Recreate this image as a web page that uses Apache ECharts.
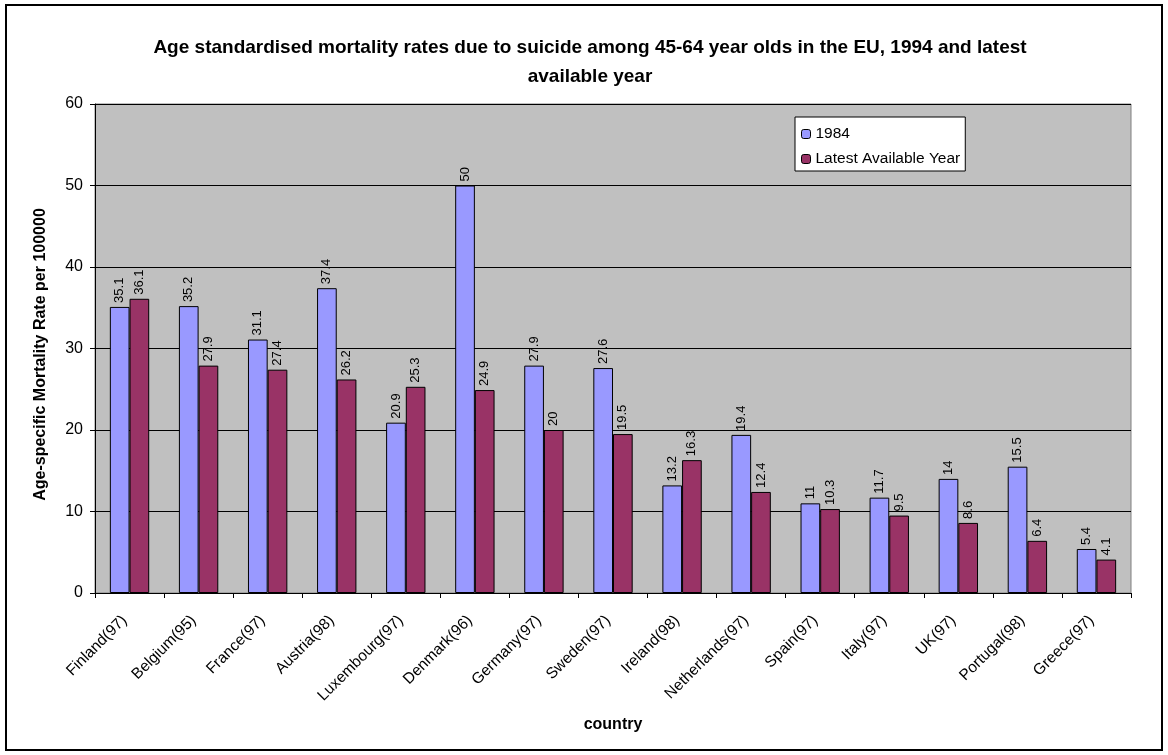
<!DOCTYPE html>
<html>
<head>
<meta charset="utf-8">
<style>
  html, body { margin: 0; padding: 0; background: #fff; }
  #chart { width: 1168px; height: 755px; }
</style>
<script src="https://cdn.jsdelivr.net/npm/echarts@6/dist/echarts.min.js"></script>
</head>
<body>
<div id="chart"></div>
<script>
// Countries with the year of the latest available figure
const countries = ['Finland(97)', 'Belgium(95)', 'France(97)', 'Austria(98)', 'Luxembourg(97)',
  'Denmark(96)', 'Germany(97)', 'Sweden(97)', 'Ireland(98)', 'Netherlands(97)',
  'Spain(97)', 'Italy(97)', 'UK(97)', 'Portugal(98)', 'Greece(97)'];
const rates1984 = [35.1, 35.2, 31.1, 37.4, 20.9, 50, 27.9, 27.6, 13.2, 19.4, 11, 11.7, 14, 15.5, 5.4];
const ratesLatest = [36.1, 27.9, 27.4, 26.2, 25.3, 24.9, 20, 19.5, 16.3, 12.4, 10.3, 9.5, 8.6, 6.4, 4.1];
const seriesNames = ['1984', 'Latest Available Year'];

const FONT = '"Liberation Sans", Arial, sans-serif';
const chart = echarts.init(document.getElementById('chart'), null, { renderer: 'canvas' });

const barLabel = {
  show: true,
  position: 'top',
  rotate: 90,
  align: 'left',
  verticalAlign: 'middle',
  distance: 4,
  fontFamily: FONT,
  fontSize: 13,
  color: '#000'
};

chart.setOption({
  animation: false,
  textStyle: { fontFamily: FONT },
  graphic: [{
    type: 'rect',
    shape: { x: 6, y: 5, width: 1156, height: 745 },
    style: { fill: 'none', stroke: '#000', lineWidth: 2 },
    z: -1
  }],
  title: {
    text: 'Age standardised mortality rates due to suicide among 45-64 year olds in the EU, 1994 and latest\navailable year',
    left: 590,
    top: 33,
    padding: 0,
    textAlign: 'center',
    textStyle: { fontFamily: FONT, fontSize: 19, fontWeight: 'bold', color: '#000', lineHeight: 29 }
  },
  legend: {
    data: seriesNames,
    orient: 'vertical',
    left: 795,
    top: 117,
    itemWidth: 9,
    itemHeight: 9,
    itemGap: 9,
    padding: [9, 5, 4, 6],
    backgroundColor: '#fff',
    borderColor: '#000',
    borderWidth: 1,
    borderRadius: 0,
    textStyle: { fontFamily: FONT, fontSize: 15.5, color: '#000' },
    itemStyle: { borderColor: '#000', borderWidth: 1 }
  },
  grid: {
    left: 95, right: 37, top: 104, bottom: 162,
    show: true,
    backgroundColor: '#c0c0c0',
    borderColor: '#808080',
    borderWidth: 1
  },
  xAxis: {
    type: 'category',
    data: countries,
    name: 'country',
    nameLocation: 'middle',
    nameGap: 124,
    nameTextStyle: { fontFamily: FONT, fontSize: 16, fontWeight: 'bold', color: '#000' },
    axisLine: { lineStyle: { color: '#000', width: 1 } },
    axisTick: { show: true, length: 5, lineStyle: { color: '#000' } },
    axisLabel: {
      rotate: 45,
      interval: 0,
      margin: 20,
      padding: [0, 7, 0, 0],
      fontFamily: FONT,
      fontSize: 15.5,
      color: '#000'
    }
  },
  yAxis: {
    type: 'value',
    min: 0,
    max: 60,
    interval: 10,
    name: 'Age-specific Mortality Rate per 100000',
    nameLocation: 'middle',
    nameGap: 46,
    nameTextStyle: { fontFamily: FONT, fontSize: 16, fontWeight: 'bold', color: '#000', padding: [0, 12, 0, 0] },
    axisLine: { show: true, lineStyle: { color: '#000' } },
    axisTick: { show: true, length: 5, lineStyle: { color: '#000' } },
    axisLabel: { fontFamily: FONT, fontSize: 16, color: '#000', margin: 12 },
    splitLine: { show: true, lineStyle: { color: '#000', width: 1 } }
  },
  series: [
    {
      name: seriesNames[0],
      type: 'bar',
      data: rates1984,
      barGap: '0%',
      barCategoryGap: '43%',
      itemStyle: { color: '#9999ff', borderColor: '#000', borderWidth: 1 },
      label: barLabel
    },
    {
      name: seriesNames[1],
      type: 'bar',
      data: ratesLatest,
      itemStyle: { color: '#993366', borderColor: '#000', borderWidth: 1 },
      label: barLabel
    }
  ]
});
</script>
</body>
</html>
